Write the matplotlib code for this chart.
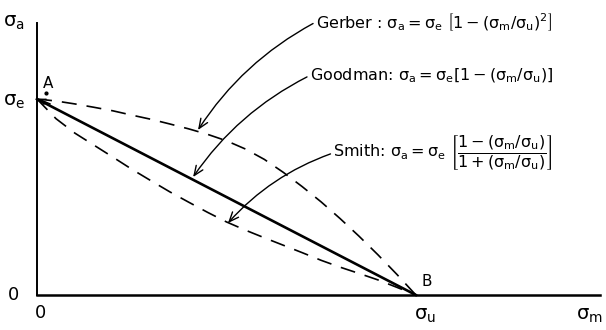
import matplotlib
matplotlib.use("Agg")
from matplotlib import pyplot as plt

plt.rcParams['font.family'] = ['DejaVu Sans']
plt.rcParams['mathtext.default'] = 'regular'

# values (sigma_m / sigma_u, sigma_a / sigma_e)
curve_x = [0.0, 0.05, 0.1, 0.15, 0.2, 0.25, 0.3, 0.35, 0.4, 0.45, 0.5,
           0.55, 0.6, 0.65, 0.7, 0.75, 0.8, 0.85, 0.9, 0.95, 1.0]
gerber_y = [1.0, 0.99, 0.975, 0.958, 0.94, 0.918, 0.897, 0.873, 0.848, 0.82, 0.787,
            0.745, 0.692, 0.626, 0.553, 0.475, 0.39, 0.30, 0.205, 0.105, 0.0]
smith_y = [1.0, 0.90, 0.826, 0.765, 0.704, 0.642, 0.584, 0.527, 0.474, 0.422, 0.373,
           0.331, 0.292, 0.254, 0.216, 0.177, 0.142, 0.11, 0.077, 0.039, 0.0]

goodman_x = [0.0, 1.0]
goodman_y = [1.0, 0.0]

labels = {
    'gerber': r'Gerber : $\sigma_a = \sigma_e\ \left[1-(\sigma_m/\sigma_u)^2\right]$',
    'goodman': r'Goodman: $\sigma_a = \sigma_e\left[1-(\sigma_m/\sigma_u)\right]$',
    'smith': r'Smith: $\sigma_a = \sigma_e\ \left[\dfrac{1-(\sigma_m/\sigma_u)}{1+(\sigma_m/\sigma_u)}\right]$',
}
arrow_tips = {'gerber': (0.425, 0.842), 'goodman': (0.412, 0.602), 'smith': (0.504, 0.367)}
label_pos = {'gerber': (0.736, 1.393), 'goodman': (0.72, 1.12), 'smith': (0.782, 0.725)}

fig = plt.figure(figsize=(6.06, 3.30), dpi=100)
ax = fig.add_axes([37 / 606, 35 / 330, 563 / 606, 272 / 330])
ax.set_xlim(0, 1.486)
ax.set_ylim(0, 1.388)
for side in ['top', 'right']:
    ax.spines[side].set_visible(False)
ax.spines['left'].set_linewidth(1.4)
ax.spines['bottom'].set_linewidth(1.8)
ax.set_xticks([])
ax.set_yticks([])

ax.plot(curve_x, gerber_y, color='black', lw=1.2, ls=(0, (9, 6)), clip_on=False)
ax.plot(curve_x, smith_y, color='black', lw=1.2, ls=(0, (9, 6)), clip_on=False)
ax.plot(goodman_x, goodman_y, color='black', lw=1.9, clip_on=False)

for key in ['gerber', 'goodman', 'smith']:
    ax.annotate(labels[key], xy=arrow_tips[key], xytext=label_pos[key],
                fontsize=11.5, ha='left', va='center',
                arrowprops=dict(arrowstyle='->,head_length=0.6,head_width=0.25',
                                color='black', lw=1.0, shrinkA=0, shrinkB=0,
                                relpos=(0, 0.5),
                                connectionstyle='arc3,rad=0.13'))

# axis labels and points
ax.text(-0.06, 1.393, r'$\sigma_a$', fontsize=14, ha='center', va='center')
ax.text(-0.06, 0.985, r'$\sigma_e$', fontsize=14, ha='center', va='center')
ax.text(-0.063, 0.0, '0', fontsize=13, ha='center', va='center')
ax.text(0.008, -0.09, '0', fontsize=13, ha='center', va='center')
ax.text(1.024, -0.105, r'$\sigma_u$', fontsize=14, ha='center', va='center')
ax.text(1.459, -0.105, r'$\sigma_m$', fontsize=14, ha='center', va='center')
ax.text(0.03, 1.08, 'A', fontsize=11, ha='center', va='center')
ax.plot([0.024], [1.03], marker='o', ms=2, color='black', clip_on=False)
ax.annotate('', xy=(0.004, 1.0), xytext=(0.035, 0.975),
            arrowprops=dict(arrowstyle='->,head_length=0.4,head_width=0.2',
                            color='black', lw=1.0, shrinkA=0, shrinkB=0))
ax.text(1.03, 0.068, 'B', fontsize=11, ha='center', va='center')

fig.savefig('out.png', dpi=100)
